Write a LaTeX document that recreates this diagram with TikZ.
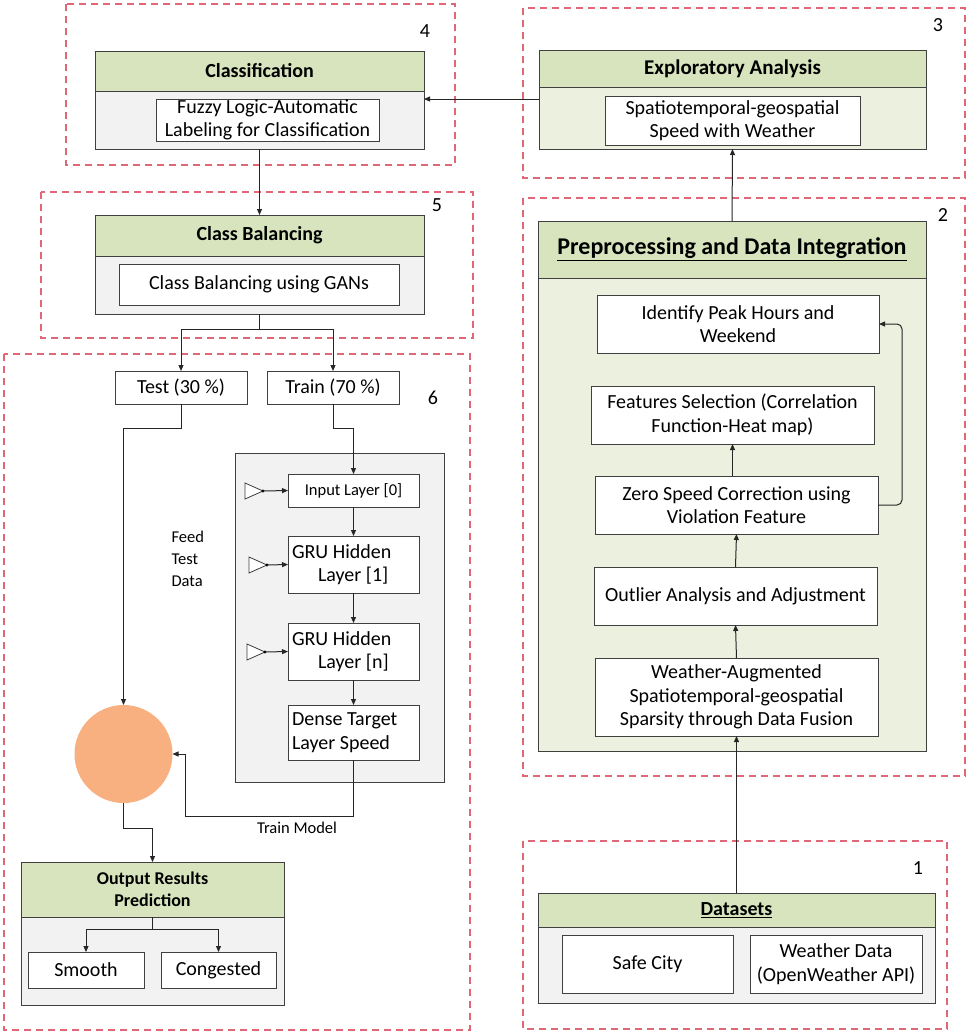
\documentclass[tikz,border=0pt]{standalone}
\usepackage{fontspec}
\setmainfont{Carlito}
\usetikzlibrary{arrows.meta}

\definecolor{hdrgreen}{RGB}{215,228,189}
\definecolor{bodygreen}{RGB}{235,241,222}
\definecolor{bodygray}{RGB}{242,242,242}
\definecolor{stagered}{RGB}{224,104,118}
\definecolor{circorange}{RGB}{248,176,128}
\definecolor{linec}{RGB}{64,64,64}

\tikzset{
  stage/.style={draw=stagered, dash pattern=on 7pt off 5pt, line width=1.4pt},
  cell/.style={draw=linec, line width=1pt, anchor=north west, inner sep=0pt, outer sep=0pt, align=center},
  hdr/.style={cell, fill=hdrgreen, font=\bfseries\fontsize{20}{23}\selectfont},
  gbody/.style={cell, fill=bodygray},
  lbody/.style={cell, fill=bodygreen},
  txtbox/.style={cell, fill=white, font=\fontsize{20}{23.5}\selectfont},
  layerbox/.style={txtbox, minimum width=131, text width=123, align=flush left},
  small/.style={font=\fontsize{16.5}{22}\selectfont},
  stagenum/.style={font=\fontsize{20}{22}\selectfont},
  arr/.style={-{Triangle[length=6pt,width=5pt]}, draw=black!85, line width=1pt},
}

\begin{document}
\begin{tikzpicture}[x=1pt,y=1pt,yscale=-1,xscale=1]
\useasboundingbox (0,0) rectangle (969,1034);

%Shape: Dashed stages
\draw[stage] (66,4) rectangle (455,165);
\draw[stage] (523,8) rectangle (965,178);
\draw[stage] (41,192) rectangle (473,338);
\draw[stage] (523,198) rectangle (965,776);
\draw[stage] (4,354) rectangle (470,1030);
\draw[stage] (523,841) rectangle (947,1029);

% Text Node
\node[stagenum] (n1) at (918,868) {1};
\node[stagenum] (n2) at (943,215) {2};
\node[stagenum] (n3) at (938,25) {3};
\node[stagenum] (n4) at (425,31) {4};
\node[stagenum] (n5) at (437,205) {5};
\node[stagenum] (n6) at (433,398) {6};

%Shape: Classification
\node[hdr, minimum width=329, minimum height=40] (clsH) at (95,51) {Classification};
\node[gbody, minimum width=329, minimum height=58] (clsB) at (95,91) {};
\node[txtbox, minimum width=223, minimum height=42] (clsIn) at (156,99) {Fuzzy Logic-Automatic\\Labeling for Classification};

%Shape: Exploratory Analysis
\node[hdr, minimum width=387, minimum height=37, font=\bfseries\fontsize{21}{24}\selectfont] (expH) at (539,50) {Exploratory Analysis};
\node[lbody, minimum width=387, minimum height=62] (expB) at (539,87) {};
\node[txtbox, minimum width=255, minimum height=49] (expIn) at (605,96) {Spatiotemporal-geospatial\\Speed with Weather};

%Shape: Class Balancing
\node[hdr, minimum width=329, minimum height=41] (cbH) at (95,215) {Class Balancing};
\node[gbody, minimum width=329, minimum height=58] (cbB) at (95,256) {};
\node[txtbox, minimum width=280, minimum height=41] (cbIn) at (119,264) {Class Balancing using GANs};

%Shape: Preprocessing and Data Integration
\node[hdr, minimum width=388, minimum height=57, font=\bfseries\fontsize{24}{27}\selectfont] (prepH) at (538,221) {\underline{Preprocessing and Data Integration}};
\node[lbody, minimum width=388, minimum height=473] (prepB) at (538,278) {};
\node[txtbox, minimum width=282, minimum height=58] (ident) at (597,295) {Identify Peak Hours and\\Weekend};
\node[txtbox, minimum width=283, minimum height=58] (feat) at (591,386) {Features Selection (Correlation\\Function-Heat map)};
\node[txtbox, minimum width=283, minimum height=58] (zero) at (595,476) {Zero Speed Correction using\\Violation Feature};
\node[txtbox, minimum width=283, minimum height=58] (outl) at (594,567) {Outlier Analysis and Adjustment};
\node[txtbox, minimum width=283, minimum height=78] (weath) at (595,658) {Weather-Augmented\\Spatiotemporal-geospatial\\Sparsity through Data Fusion};

%Shape: Datasets
\node[hdr, minimum width=397, minimum height=34] (dsH) at (538,893) {\underline{Datasets}};
\node[gbody, minimum width=397, minimum height=76] (dsB) at (538,927) {};
\node[txtbox, minimum width=171, minimum height=58] (safe) at (562,935) {Safe City};
\node[txtbox, minimum width=172, minimum height=58] (wdata) at (750,935) {Weather Data\\(OpenWeather API)};

%Shape: Split and GRU model
\node[txtbox, minimum width=132, minimum height=33] (test) at (115,371) {Test (30 \%)};
\node[txtbox, minimum width=132, minimum height=33] (train) at (267,371) {Train (70 \%)};
\node[gbody, minimum width=209, minimum height=329] (gruBox) at (235,453) {};
\node[txtbox, minimum width=131, minimum height=33, font=\fontsize{16.5}{20}\selectfont] (inp) at (288,474) {Input Layer [0]};
\node[layerbox, minimum height=57] (gru1) at (288,536) {GRU Hidden\\\hspace*{26pt}Layer [1]};
\node[layerbox, minimum height=57] (grun) at (288,623) {GRU Hidden\\\hspace*{26pt}Layer [n]};
\node[layerbox, minimum height=55] (dense) at (288,705) {Dense Target\\Layer Speed};
\node[circle, fill=circorange, minimum size=98, inner sep=0pt, outer sep=0pt] (pred) at (123.5,754) {};

% Text Node
\node[small, anchor=west, align=left] (feed) at (168,559) {Feed\\Test\\Data};
\node[small] (trlbl) at (297,828) {Train Model};

%Shape: Output Results Prediction
\node[hdr, minimum width=263, minimum height=55, font=\bfseries\fontsize{18}{22}\selectfont] (outH) at (21,862) {Output Results\\Prediction};
\node[gbody, minimum width=263, minimum height=88] (outB) at (21,917) {};
\node[txtbox, minimum width=116, minimum height=36] (smooth) at (28,952) {Smooth};
\node[txtbox, minimum width=115, minimum height=36] (cong) at (161,952) {Congested};

% Layer inputs
\foreach \n/\xa/\y in {inp/245/491, gru1/249/565, grun/247/652}{
  \draw[linec, fill=white, line width=0.8pt] (\xa,\y-8) -- (\xa+18,\y) -- (\xa,\y+8) -- cycle;
  \coordinate (tip\n) at (\xa+18,\y);
  \fill (tip\n) circle (1.6pt);
  \draw[arr] (tip\n) -- (\n.west);
}

%Straight Lines
\draw[arr] (dsH.north) -- (weath.south);
\draw[arr] (weath.north) -- (outl.south);
\draw[arr] (outl.north) -- (zero.south);
\draw[arr] (feat.south |- zero.north) -- (feat.south);
\draw[arr, rounded corners=5pt] (zero.east) -- ++(24,0) |- (ident.east);
\draw[arr] (prepH.north) -- (expB.south);
\draw[arr] (clsIn.north -| expB.west) -- (clsIn.north -| clsB.east);
\draw[arr] (clsB.south) -- (cbH.north);
\draw[arr] (cbB.south) -- ++(0,15) -| (test.north);
\draw[arr] (cbB.south) -- ++(0,15) -| (train.north);
\draw[arr] (test.south) -- ++(0,24) -| (pred.north);
\draw[arr] (train.south) -- ++(0,24) -| (inp.north);
\draw[arr] (inp.south) -- (gru1.north);
\draw[arr] (gru1.south) -- (grun.north);
\draw[arr] (grun.south) -- (dense.north);
\coordinate (knee) at (185,816);
\draw[arr] (dense.south) |- (knee) |- (pred.east);
\draw[arr] (pred.south) -- ++(0,25) -| (outH.north);
\draw[arr] (outH.south) -- ++(0,12) -| (smooth.north);
\draw[arr] (outH.south) -- ++(0,12) -| (cong.north);

\end{tikzpicture}
\end{document}
